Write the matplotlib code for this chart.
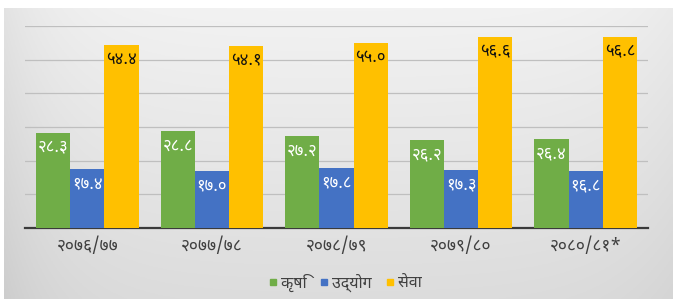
import matplotlib
matplotlib.use("Agg")
import matplotlib.pyplot as plt
import numpy as np
from matplotlib import font_manager
from matplotlib.lines import Line2D

# Devanagari font: take the first one that is installed
names = {f.name for f in font_manager.fontManager.ttflist}
deva = next((n for n in ["Noto Sans Devanagari", "Mukta", "Hind", "Annapurna SIL"] if n in names), "DejaVu Sans")
plt.rcParams['font.family'] = [deva, 'DejaVu Sans']

barsha = ["२०७६/७७", "२०७७/७८", "२०७८/७९", "२०७९/८०", "२०८०/८१*"]
krishi = [28.3, 28.8, 27.2, 26.2, 26.4]
udyog = [17.4, 17.0, 17.8, 17.3, 16.8]
sewa = [54.4, 54.1, 55.0, 56.6, 56.8]
shreni = ["कृषि", "उद्योग", "सेवा"]
rang = ["#70ad47", "#4472c4", "#ffc000"]
lekh_rang = ["white", "white", "#111111"]

ank = str.maketrans("0123456789", "०१२३४५६७८९")

def nepali(v):
    return ("%.1f" % v).translate(ank)

fig = plt.figure(figsize=(6.73, 2.99), dpi=100)

# background gradient (grey panel, white strip at top and left)
bg = fig.add_axes([0, 0, 1, 1], zorder=-5)
yy = np.linspace(0, 1, 200)[:, None]
xx = np.linspace(0, 1, 300)[None, :]
shade = 0.95 - 0.085 * yy - 0.06 * np.exp(-xx / 0.08) - 0.03 * np.exp(-(1 - xx) / 0.1)
bg.imshow(np.dstack([shade, shade, shade]), extent=[4 / 673, 1, 0, 1 - 8 / 299],
          aspect="auto", origin="upper")
bg.set_xlim(0, 1)
bg.set_ylim(0, 1)
bg.axis("off")

ax = fig.add_axes([25 / 673, 1 - 228 / 299, 623 / 673, 202 / 299])
ax.patch.set_alpha(0)
x = np.arange(len(barsha))
w = 0.275
for k, vals in enumerate([krishi, udyog, sewa]):
    pos = x + (k - 1) * w
    ax.bar(pos, vals, w, color=rang[k], zorder=3)
    for p, v in zip(pos, vals):
        ax.annotate(nepali(v), (p, v), xytext=(0, -11), textcoords="offset points",
                    ha="center", va="center", fontsize=12, color=lekh_rang[k],
                    fontweight="bold" if k == 2 else "normal", zorder=4)

ax.set_xlim(-0.5, len(barsha) - 0.5)
ax.set_ylim(0, 60)
ax.set_yticks(np.arange(10, 61, 10))
ax.set_yticklabels([])
ax.tick_params(axis="y", length=0)
ax.grid(axis="y", color="#bfbfbf", linewidth=0.9, zorder=0)
ax.set_xticks(x)
ax.set_xticklabels(barsha, fontsize=12.5, color="#404040")
ax.tick_params(axis="x", length=0, pad=6)
for s in ["top", "right", "left"]:
    ax.spines[s].set_visible(False)
ax.spines["bottom"].set_color("#3a3a3a")
ax.spines["bottom"].set_linewidth(1.6)

handles = [Line2D([], [], marker="s", linestyle="", markersize=5, color=c) for c in rang]
fig.legend(handles, shreni, loc="center", bbox_to_anchor=(0.51, 1 - 283 / 299), ncol=3,
           frameon=False, fontsize=11.5, handletextpad=0.0, columnspacing=0.6,
           handlelength=1.0, labelcolor="#404040")

fig.savefig("out.png")
